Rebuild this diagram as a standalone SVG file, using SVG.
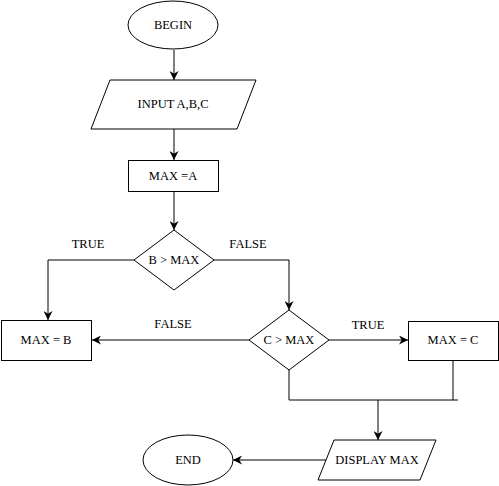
<svg xmlns="http://www.w3.org/2000/svg" width="499" height="486" viewBox="0 0 499 486">
  <style>
    .shape { fill: #ffffff; stroke: #000000; stroke-width: 1; }
    .label { font-family: "Liberation Serif", "Times New Roman", serif; font-size: 12.5px; fill: #000000; text-anchor: middle; dominant-baseline: central; }
    .wire { fill: none; stroke: #000000; stroke-width: 1; }
  </style>
  <defs>
    <marker id="arrow" viewBox="0 0 10 10" refX="10" refY="5" markerWidth="9" markerHeight="9" markerUnits="userSpaceOnUse" orient="auto">
      <path d="M0,0 L10,5 L0,10 L3,5 Z" fill="#000000"/>
    </marker>
  </defs>
  <rect width="499" height="486" fill="#ffffff"/>

  <!-- connectors -->
  <g id="connectors">
    <line class="wire" x1="174" y1="50" x2="174" y2="80" marker-end="url(#arrow)"/>
    <line class="wire" x1="174" y1="129" x2="174" y2="160" marker-end="url(#arrow)"/>
    <line class="wire" x1="174" y1="191" x2="174" y2="230" marker-end="url(#arrow)"/>
    <polyline class="wire" points="134,260 48,260 48,320" marker-end="url(#arrow)"/>
    <polyline class="wire" points="214,260 289,260 289,310" marker-end="url(#arrow)"/>
    <line class="wire" x1="249" y1="340" x2="92" y2="340" marker-end="url(#arrow)"/>
    <line class="wire" x1="329" y1="340" x2="408" y2="340" marker-end="url(#arrow)"/>
    <polyline class="wire" points="289,370 289,400 458,400"/>
    <line class="wire" x1="453" y1="360" x2="453" y2="400"/>
    <line class="wire" x1="378" y1="400" x2="378" y2="440" marker-end="url(#arrow)"/>
    <line class="wire" x1="327" y1="460" x2="233" y2="460" marker-end="url(#arrow)"/>
    <text class="label" x="88" y="244">TRUE</text>
    <text class="label" x="248" y="244">FALSE</text>
    <text class="label" x="173" y="324">FALSE</text>
    <text class="label" x="368" y="325">TRUE</text>
  </g>

  <g id="begin">
    <ellipse class="shape" cx="173" cy="25" rx="45" ry="24"/>
    <text class="label" x="173" y="25">BEGIN</text>
  </g>

  <g id="input">
    <polygon class="shape" points="110,80 256,80 237,129 91,129"/>
    <text class="label" x="173" y="104">INPUT A,B,C</text>
  </g>

  <g id="max-a">
    <rect class="shape" x="128.5" y="160.5" width="90" height="31"/>
    <text class="label" x="173" y="176">MAX =A</text>
  </g>

  <g id="b-gt-max">
    <polygon class="shape" points="174,230 214,260 174,290 134,260"/>
    <text class="label" x="174" y="260">B &gt; MAX</text>
  </g>

  <g id="max-b">
    <rect class="shape" x="1.5" y="320.5" width="90" height="40"/>
    <text class="label" x="46" y="340">MAX = B</text>
  </g>

  <g id="c-gt-max">
    <polygon class="shape" points="289,310 329,340 289,370 249,340"/>
    <text class="label" x="289" y="340">C &gt; MAX</text>
  </g>

  <g id="max-c">
    <rect class="shape" x="408.5" y="321.5" width="90" height="39"/>
    <text class="label" x="453" y="340">MAX = C</text>
  </g>

  <g id="display">
    <polygon class="shape" points="334,440 436,440 420,480 318,480"/>
    <text class="label" x="377" y="460">DISPLAY MAX</text>
  </g>

  <g id="end">
    <ellipse class="shape" cx="188" cy="460" rx="45" ry="25"/>
    <text class="label" x="188" y="460">END</text>
  </g>
</svg>
